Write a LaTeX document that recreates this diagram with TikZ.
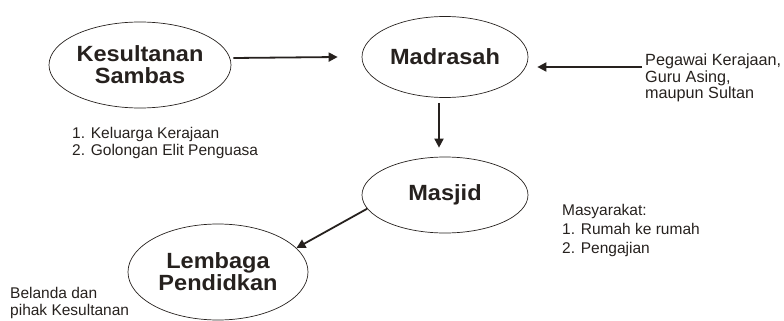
\documentclass[tikz,border=0pt]{standalone}
\usepackage{fontspec}
\setmainfont{Liberation Sans}
\newfontfamily\headfont{Liberation Sans}[FakeStretch=1.07]
\usetikzlibrary{positioning,arrows.meta,shapes.geometric}
\definecolor{ink}{RGB}{38,33,30}

\begin{document}
\begin{tikzpicture}[
  x=1pt,y=-1pt,
  oval/.style={draw=ink,ellipse,line width=0.7pt,inner sep=0pt,align=center,text=ink,
    font=\headfont\bfseries\fontsize{22}{22}\selectfont},
  note/.style={anchor=north west,inner sep=0pt,align=left,text=ink},
  arr/.style={-{Triangle[length=9pt,width=9pt]},line width=1.8pt,draw=ink}
]
\useasboundingbox (0,0) rectangle (784,321);
\node[oval,minimum width=182pt,minimum height=86pt] (kesultanan) at (140,65) {Kesultanan\\Sambas};
\node[oval,minimum width=166pt,minimum height=81pt] (madrasah) at (445,57) {Madrasah};
\node[oval,minimum width=166pt,minimum height=76pt] (masjid) at (445,195) {Masjid};
\node[oval,minimum width=180pt,minimum height=96pt] (lembaga) at (218,272) {Lembaga\\Pendidkan};

\node[note,font=\fontsize{15.5}{17}\selectfont] (keluarga) at (72,127) {1. Keluarga Kerajaan\\2. Golongan Elit Penguasa};
\node[note,font=\fontsize{16.2}{16.5}\selectfont] (pegawai) at (645,54) {Pegawai Kerajaan,\\Guru Asing,\\maupun Sultan};
\node[note,font=\fontsize{15.5}{19}\selectfont] (masyarakat) at (562,204) {Masyarakat:\\1. Rumah ke rumah\\2. Pengajian};
\node[note,font=\fontsize{15.5}{17}\selectfont] (belanda) at (10,287) {Belanda dan\\pihak Kesultanan};

\draw[arr] ([shift={(2pt,7pt)}]kesultanan.east) -- ([xshift=-24pt]madrasah.west);
\draw[arr,shorten >=9pt] ([shift={(-3pt,-10pt)}]pegawai.west |- madrasah.east) -- ([yshift=-10pt]madrasah.east);
\draw[arr,shorten <=5pt,shorten >=9pt] ([xshift=-6pt]madrasah.south) -- ([xshift=-6pt]masjid.north);
\draw[arr] (masjid.190) -- (lembaga.17);
\end{tikzpicture}
\end{document}
